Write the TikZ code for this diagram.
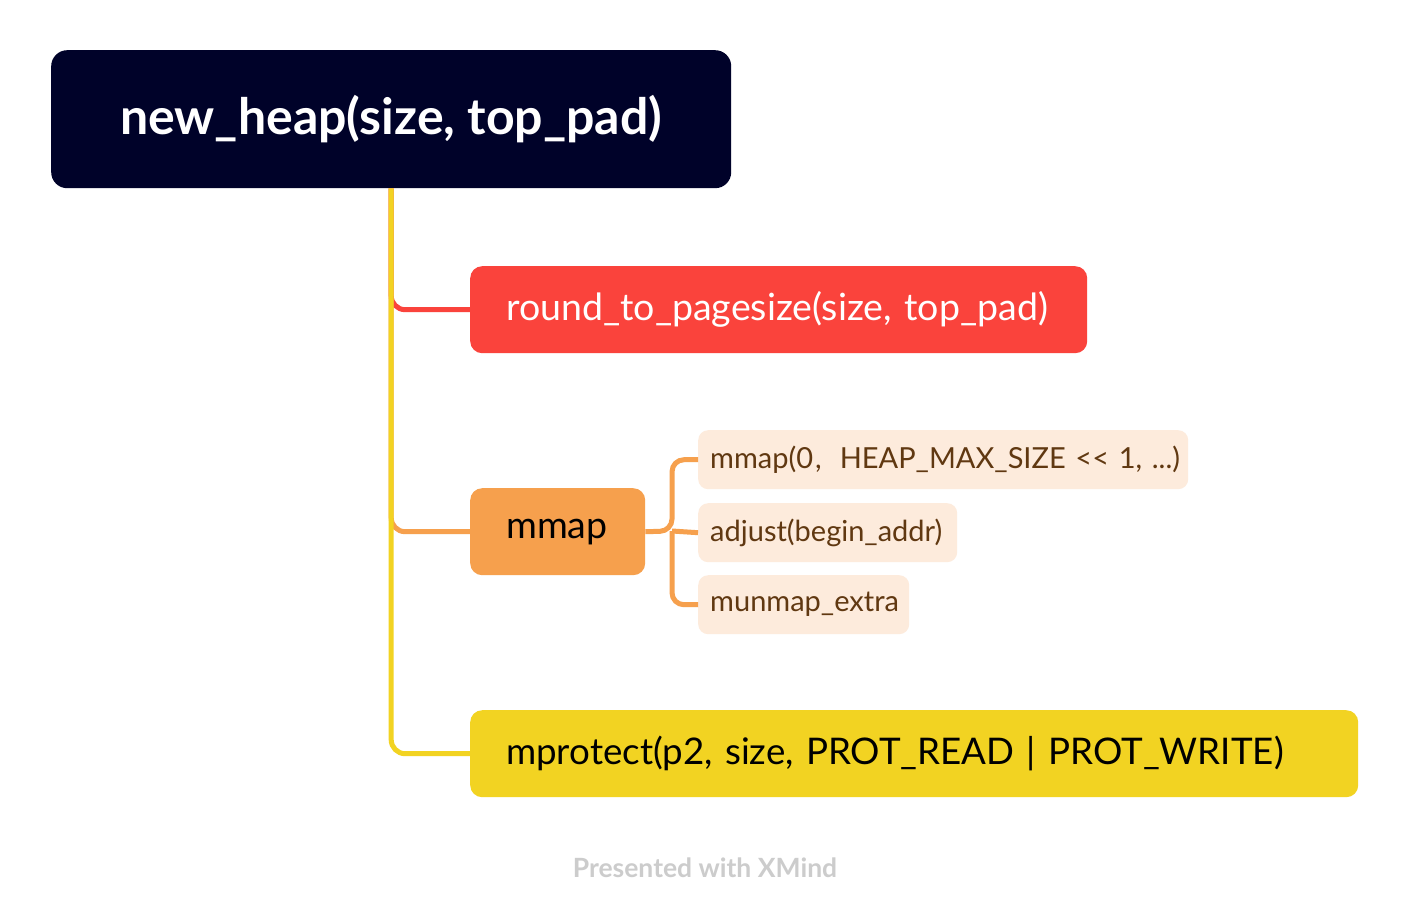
\documentclass[tikz,border=0pt]{standalone}
\usepackage{fontspec}
\setmainfont{Lato}
\usetikzlibrary{positioning}
\definecolor{rootc}{RGB}{0,2,41}
\definecolor{redc}{RGB}{250,67,60}
\definecolor{orangec}{RGB}{246,160,77}
\definecolor{yellowc}{RGB}{242,211,34}
\definecolor{peachc}{RGB}{253,235,220}
\definecolor{brownc}{RGB}{96,56,17}
\definecolor{markc}{RGB}{204,204,204}
\tikzset{
  box/.style={rectangle, rounded corners=12pt, anchor=north west, inner ysep=0pt, align=left},
  rootbox/.style={rectangle, rounded corners=16pt, fill=rootc, text=white, anchor=north west,
    minimum width=680pt, minimum height=138pt, inner sep=0pt,
    font=\fontsize{50}{56}\selectfont\bfseries},
  lvlone/.style={box, inner xsep=36pt, minimum height=87pt, font=\fontsize{37.5}{44}\selectfont},
  subbox/.style={box, rounded corners=10pt, fill=peachc, text=brownc, inner xsep=12pt,
    minimum height=59pt, font=\fontsize{29}{34}\selectfont},
  link/.style={line width=5pt, rounded corners=14pt},
}
\begin{document}
\begin{tikzpicture}[x=1pt,y=-1pt]
\useasboundingbox[fill=white] (0,0) rectangle (1410,918);
\node[rootbox] (root) at (51,50) {new\_heap(size, top\_pad)};
\node[lvlone, fill=redc, text=white, text width=545pt] (round) at (470,266) {round\_to\_pagesize(size, top\_pad)};
\node[lvlone, fill=orangec, text=black, text width=103pt] (mmap) at (470,488) {mmap};
\node[lvlone, fill=yellowc, text=black, text width=816pt, font=\fontsize{36.7}{44}\selectfont] (prot) at (470,710) {mprotect(p2, size, PROT\_READ | PROT\_WRITE)};
\node[subbox, text width=466pt] (sub1) at (698,430) {\mbox{mmap(0\kern2pt,\kern18pt HEAP\_MAX\_SIZE <{}< 1, ...)}};
\node[subbox, text width=235pt] (sub2) at (698,503) {adjust(begin\_addr)};
\node[subbox, text width=187pt] (sub3) at (698,575) {munmap\_extra};
\coordinate (split) at (672,531);
\node[font=\fontsize{26.5}{30}\selectfont\bfseries, text=markc] (mark) at (705,868) {Presented with XMind};
% connectors
\draw[link, redc] (root.south) |- (round.west);
\draw[link, orangec] (root.south) |- (mmap.west);
\draw[link, yellowc] (root.south) |- (prot.west);
\draw[link, orangec, rounded corners=12pt] (mmap.east) -- (split) |- (sub1.west);
\draw[link, orangec] (split) -- (sub2.west);
\draw[link, orangec, rounded corners=12pt] (split) |- (sub3.west);
\end{tikzpicture}
\end{document}
